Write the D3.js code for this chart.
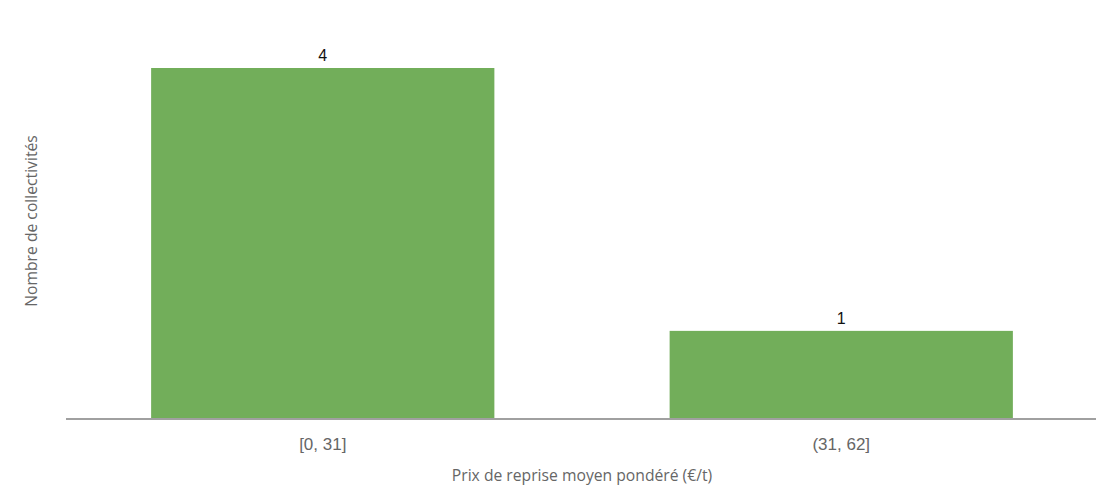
<!DOCTYPE html>
<html><head><meta charset="utf-8">
<script src="https://cdn.jsdelivr.net/npm/d3@7"></script>
<style>body{margin:0;background:#fff}svg{display:block}</style>
</head><body>
<svg id="c" width="1096" height="488"></svg>
<script>
const categories = ["[0, 31]", "(31, 62]"];
const values = [4, 1];
const xTitle = "Prix de reprise moyen pondéré (€/t)";
const yTitle = "Nombre de collectivités";

const svg = d3.select("#c");
const x = d3.scaleBand().domain(categories).range([63.5, 1100.5]).paddingInner(0.338).paddingOuter(0.169);
const y = d3.scaleLinear().domain([0, 4]).range([418.5, 68]);

svg.append("g").selectAll("rect").data(values).join("rect")
  .attr("x", (d,i) => x(categories[i]))
  .attr("width", x.bandwidth())
  .attr("y", d => y(d))
  .attr("height", d => y(0) - y(d))
  .attr("fill", "#72ae5a");

svg.append("g").selectAll("text").data(values).join("text")
  .attr("x", (d,i) => x(categories[i]) + x.bandwidth()/2)
  .attr("y", d => y(d) - 7)
  .attr("text-anchor", "middle")
  .attr("font-family", "Liberation Sans, Arial, sans-serif")
  .attr("font-size", 16)
  .attr("fill", "#111")
  .text(d => d);

const ax = svg.append("g").attr("transform", "translate(0,419)")
  .call(d3.axisBottom(x).tickSize(0).tickPadding(19));
ax.select(".domain").remove();
ax.selectAll("text")
  .attr("font-family", "Liberation Sans, Arial, sans-serif")
  .attr("font-size", 17).attr("fill", "#666");
svg.append("line").attr("x1", 66).attr("x2", 1096).attr("y1", 419).attr("y2", 419)
  .attr("stroke", "#a0a0a0").attr("stroke-width", 2);

svg.append("text").attr("x", 582).attr("y", 481).attr("text-anchor", "middle")
  .attr("font-family", "Open Sans, sans-serif").attr("font-size", 15.7).attr("fill", "#666")
  .text(xTitle);
svg.append("text").attr("transform", "translate(37,221) rotate(-90)").attr("text-anchor", "middle")
  .attr("font-family", "Open Sans, sans-serif").attr("font-size", 15.7).attr("fill", "#666")
  .text(yTitle);
</script>
</body></html>
